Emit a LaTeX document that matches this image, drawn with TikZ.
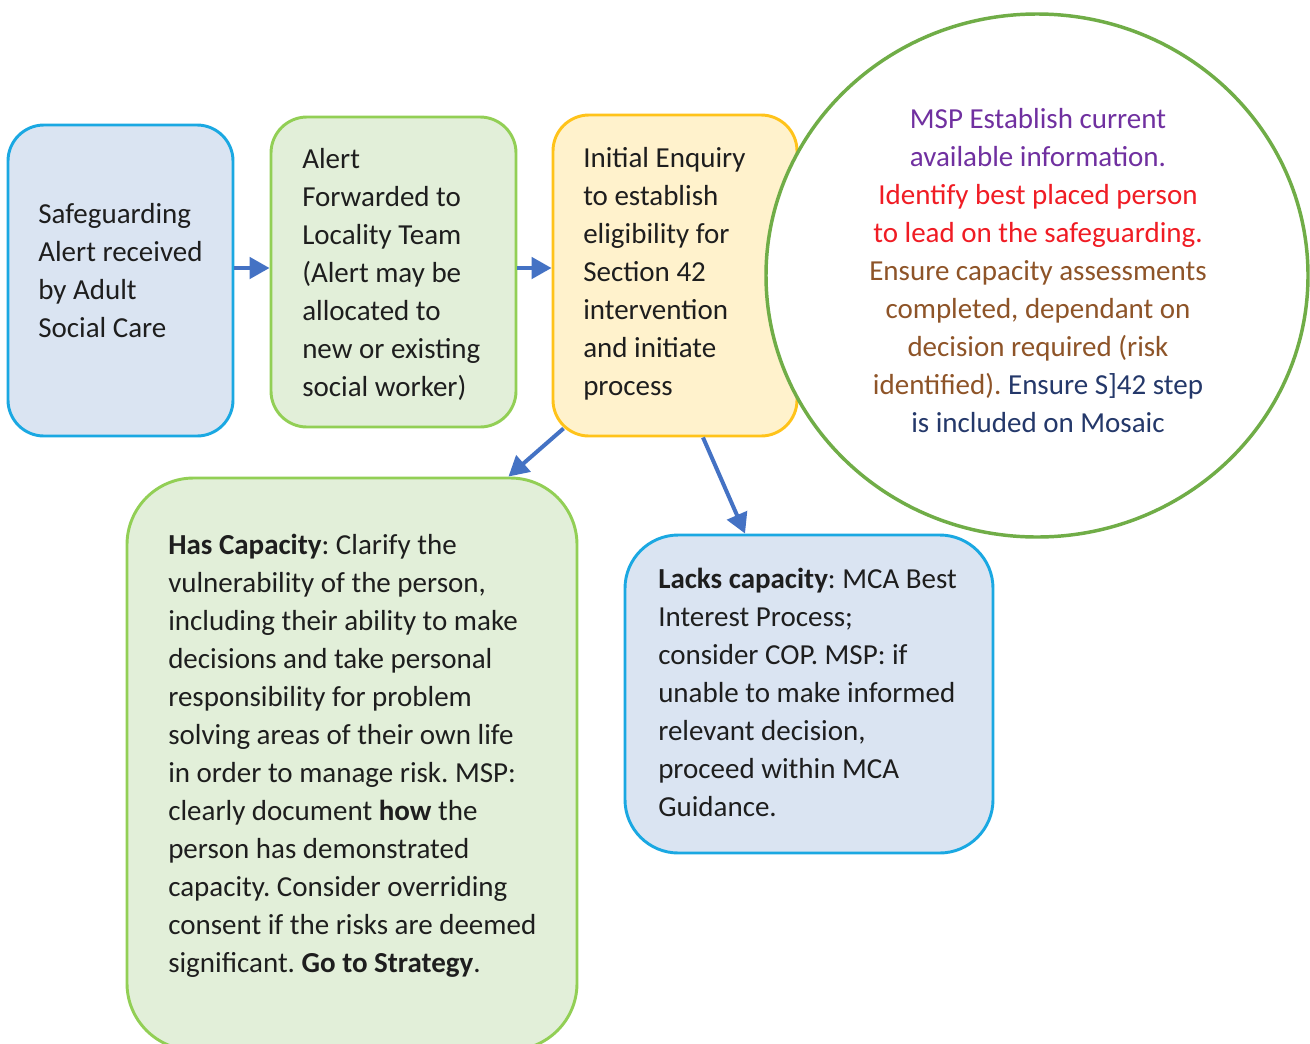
\documentclass[tikz,border=0pt]{standalone}
\usepackage{fontspec}
\setmainfont{Carlito}
\frenchspacing
\usetikzlibrary{shapes.geometric,arrows.meta,calc}
\definecolor{blueline}{HTML}{1AA8E2}
\definecolor{bluefill}{HTML}{DAE4F2}
\definecolor{greenline}{HTML}{92CF55}
\definecolor{greenfill}{HTML}{E2EFD9}
\definecolor{goldline}{HTML}{FFC31A}
\definecolor{goldfill}{HTML}{FFF2CC}
\definecolor{ringline}{HTML}{70AD47}
\definecolor{arrowblue}{HTML}{4472C4}
\definecolor{bodytext}{HTML}{1E1E1E}
\definecolor{txtpurple}{HTML}{7030A0}
\definecolor{txtred}{HTML}{F01C24}
\definecolor{txtbrown}{HTML}{8E5428}
\definecolor{txtnavy}{HTML}{24386A}
\tikzset{
  box/.style={draw, line width=2.2pt, rectangle, inner sep=0pt},
  label/.style={inner sep=0pt, anchor=north west, align=left, text=bodytext,
    font=\fontsize{21.75pt}{28.5pt}\selectfont},
  arr/.style={draw=arrowblue, line width=3pt,
    -{Triangle[length=15pt,width=16pt]}},
}
\begin{document}
\begin{tikzpicture}[x=0.75pt,y=-0.75pt]
\useasboundingbox[fill=white] (0,0) rectangle (1310,1043);

% top row of process steps
\node[box, draw=blueline, fill=bluefill, rounded corners=27pt,
  minimum width=168.75pt, minimum height=233.25pt] (b1) at (120.5,280.5) {};
\node[box, draw=greenline, fill=greenfill, rounded corners=27pt,
  minimum width=183.75pt, minimum height=232.5pt] (b2) at (393.5,272) {};
\node[box, draw=goldline, fill=goldfill, rounded corners=27pt,
  minimum width=183pt, minimum height=240.75pt] (b3) at (675,275.5) {};

% MSP note ring
\node[draw=ringline, line width=2.6pt, fill=white, ellipse, inner sep=0pt,
  minimum width=406.5pt, minimum height=392.25pt] (ring) at (1037,275.5) {};

% outcome boxes
\node[box, draw=greenline, fill=greenfill, rounded corners=50pt,
  minimum width=337.5pt, minimum height=429pt] (b4) at (352,764) {};
\node[box, draw=blueline, fill=bluefill, rounded corners=40pt,
  minimum width=276pt, minimum height=238.5pt] (b5) at (809,694) {};

% texts
\node[label] (t1) at (38,196.4) {\strut Safeguarding\\Alert received\\by Adult\\Social Care};
\node[label] (t2) at (302,141.4) {\strut Alert\\Forwarded to\\Locality Team\\(Alert may be\\allocated to\\new or existing\\social worker)};
\node[label] (t3) at (583,140.4) {\strut Initial Enquiry\\to establish\\eligibility for\\Section 42\\intervention\\and initiate\\process};
\node[label, anchor=north, align=center] (t4) at (1038,101.4) {\strut
  \textcolor{txtpurple}{MSP Establish current}\\
  \textcolor{txtpurple}{available information.}\\
  \textcolor{txtred}{Identify best placed person}\\
  \textcolor{txtred}{to lead on the safeguarding.}\\
  \textcolor{txtbrown}{Ensure capacity assessments}\\
  \textcolor{txtbrown}{completed, dependant on}\\
  \textcolor{txtbrown}{decision required (risk}\\
  \textcolor{txtbrown}{identified).} \textcolor{txtnavy}{Ensure S]42 step}\\
  \textcolor{txtnavy}{is included on Mosaic}};
\node[label] (t5) at (168,527.4) {\strut \textbf{Has Capacity}: Clarify the\\
  vulnerability of the person,\\
  including their ability to make\\
  decisions and take personal\\
  responsibility for problem\\
  solving areas of their own life\\
  in order to manage risk. MSP:\\
  clearly document \textbf{how} the\\
  person has demonstrated\\
  capacity. Consider overriding\\
  consent if the risks are deemed\\
  significant. \textbf{Go to Strategy}.};
\node[label] (t6) at (658,561.4) {\strut \textbf{Lacks capacity}: MCA Best\\
  Interest Process;\\
  consider COP. MSP: if\\
  unable to make informed\\
  relevant decision,\\
  proceed within MCA\\
  Guidance.};

% connectors
\path (b1.east) ++(0,-12.5) coordinate (a1s);
\draw[arr] (a1s) -- (a1s -| b2.west);
\path (b2.east) ++(0,-4) coordinate (a2s);
\draw[arr] (a2s) -- (a2s -| b3.west);
\draw[arr] ($(b3.south west)+(12,-9)$) -- ($(b4.north east)+(-70,0)$);
\draw[arr] ($(b3.south)+(28,0)$) -- ($(b5.north)+(-64,0)$);
\end{tikzpicture}
\end{document}
